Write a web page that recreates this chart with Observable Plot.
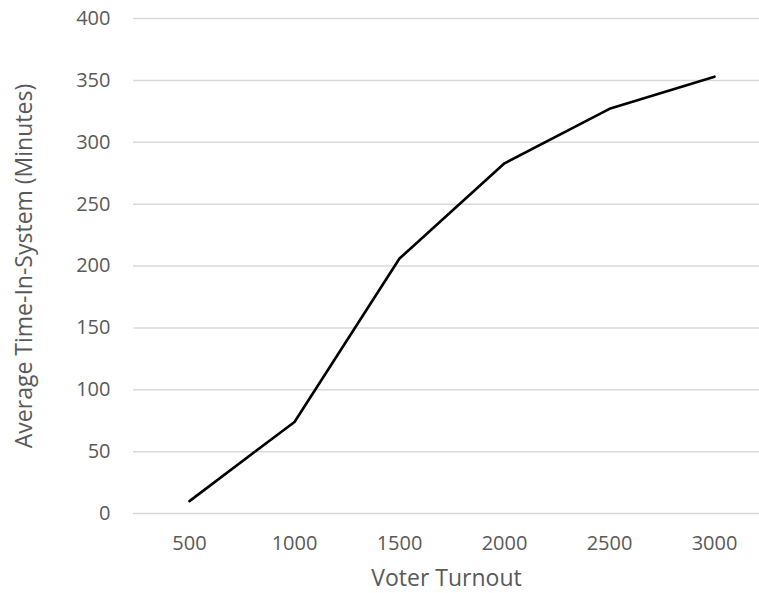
<!DOCTYPE html>
<html>
<head>
<meta charset="utf-8">
<script src="https://cdn.jsdelivr.net/npm/d3@7"></script>
<script src="https://cdn.jsdelivr.net/npm/@observablehq/plot@0.6"></script>
<style>
  html, body { margin: 0; padding: 0; background: #fff; }
  #chart svg { display: block; }
</style>
</head>
<body>
<div id="chart"></div>
<script>
const turnout = ["500", "1000", "1500", "2000", "2500", "3000"];
const avgTime = [10, 74, 206, 283, 327, 353];
const yTicks = [0, 50, 100, 150, 200, 250, 300, 350, 400];

const data = turnout.map((t, i) => ({ turnout: t, time: avgTime[i] }));

const font = "'Open Sans', sans-serif";
const textColor = "#595959";

const plot = Plot.plot({
  width: 759,
  height: 593,
  marginLeft: 133,
  marginRight: 0,
  marginTop: 18,
  marginBottom: 80,
  style: { fontFamily: font, fontSize: "20px", color: textColor, background: "#fff" },
  x: { type: "point", domain: turnout, range: [187, 715], padding: 0, label: null },
  y: { domain: [0, 400], ticks: yTicks, label: null },
  marks: [
    Plot.ruleY(yTicks, { stroke: "#d9d9d9", strokeWidth: 1.5 }),
    Plot.axisY({ ticks: yTicks, tickSize: 0, tickPadding: 23, label: null, fill: textColor, fontSize: 20 }),
    Plot.axisX({ tickSize: 0, tickPadding: 22, label: null, fill: textColor, fontSize: 20 }),
    Plot.line(data, { x: "turnout", y: "time", stroke: "#000", strokeWidth: 2.6, strokeLinejoin: "round" }),
    Plot.text(["Voter Turnout"], { frameAnchor: "bottom", lineAnchor: "middle", dy: 65, text: d => d, fill: textColor, fontSize: 23 }),
    Plot.text(["Average Time-In-System (Minutes)"], { frameAnchor: "left", textAnchor: "middle", lineAnchor: "middle", dx: -109, rotate: -90, text: d => d, fill: textColor, fontSize: 23 })
  ]
});

document.getElementById("chart").appendChild(plot);
</script>
</body>
</html>
